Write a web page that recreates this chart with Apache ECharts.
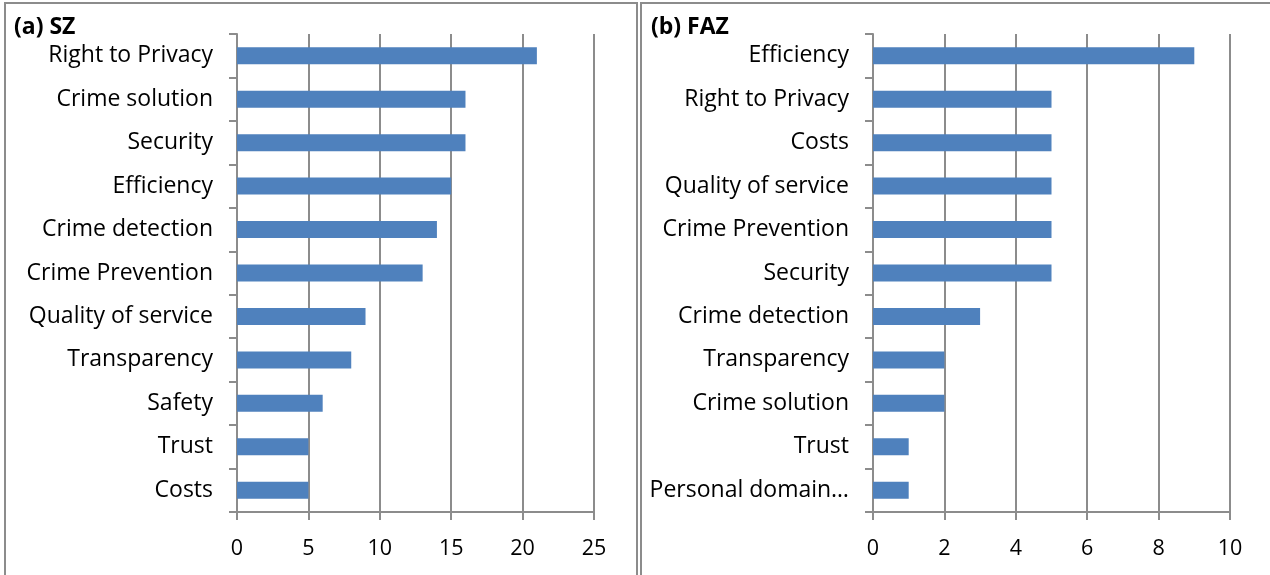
<!DOCTYPE html>
<html>
<head>
<meta charset="utf-8">
<script src="https://cdn.jsdelivr.net/npm/echarts@6/dist/echarts.min.js"></script>
<style>
html,body{margin:0;padding:0;background:#fff;}
#c{width:1270px;height:575px;}
</style>
</head>
<body>
<div id="c"></div>
<script>
const szCategories = ["Right to Privacy","Crime solution","Security","Efficiency","Crime detection","Crime Prevention","Quality of service","Transparency","Safety","Trust","Costs"];
const szValues = [21,16,16,15,14,13,9,8,6,5,5];
const fazCategories = ["Efficiency","Right to Privacy","Costs","Quality of service","Crime Prevention","Security","Crime detection","Transparency","Crime solution","Trust","Personal domain…"];
const fazValues = [9,5,5,5,5,5,3,2,2,1,1];
const szTicks = {min:0, max:25, interval:5};
const fazTicks = {min:0, max:10, interval:2};

const FONT = "'Open Sans', sans-serif";
const GRAY = '#8c8c8c';
const BLUE = '#4F81BD';

function xAx(gi, t){
  return {
    type:'value', gridIndex:gi, min:t.min, max:t.max, interval:t.interval,
    axisLine:{show:true, lineStyle:{color:GRAY, width:2}},
    axisTick:{show:true, length:8, lineStyle:{color:GRAY, width:2}},
    splitLine:{show:true, lineStyle:{color:GRAY, width:2}},
    axisLabel:{color:'#000', fontFamily:FONT, fontSize:21.5, margin:26}
  };
}
function yAx(gi, cats){
  return {
    type:'category', gridIndex:gi, data:cats, inverse:true,
    axisLine:{show:true, lineStyle:{color:GRAY, width:2}},
    axisTick:{show:true, length:8, lineStyle:{color:GRAY, width:2}},
    splitLine:{show:false},
    axisLabel:{color:'#000', fontFamily:FONT, fontSize:23, margin:24, padding:[3,0,0,0]}
  };
}

const chart = echarts.init(document.getElementById('c'), null, {renderer:'canvas'});
chart.setOption({
  animation:false,
  backgroundColor:'#fff',
  title:[
    {text:'(a) SZ', left:9, top:11, textStyle:{fontFamily:FONT, fontSize:23, fontWeight:'bold', color:'#000'}},
    {text:'(b) FAZ', left:646, top:11, textStyle:{fontFamily:FONT, fontSize:23, fontWeight:'bold', color:'#000'}}
  ],
  graphic:[
    {type:'rect', shape:{x:5, y:3, width:632, height:600}, style:{fill:null, stroke:GRAY, lineWidth:2}, silent:true, z:-1},
    {type:'rect', shape:{x:641, y:3, width:640, height:600}, style:{fill:null, stroke:GRAY, lineWidth:2}, silent:true, z:-1}
  ],
  grid:[
    {left:237, right:676, top:34, bottom:63},
    {left:873, right:40, top:34, bottom:63}
  ],
  xAxis:[xAx(0, szTicks), xAx(1, fazTicks)],
  yAxis:[yAx(0, szCategories), yAx(1, fazCategories)],
  series:[
    {type:'bar', xAxisIndex:0, yAxisIndex:0, data:szValues, barWidth:17, itemStyle:{color:BLUE}},
    {type:'bar', xAxisIndex:1, yAxisIndex:1, data:fazValues, barWidth:17, itemStyle:{color:BLUE}}
  ]
});
</script>
</body>
</html>
